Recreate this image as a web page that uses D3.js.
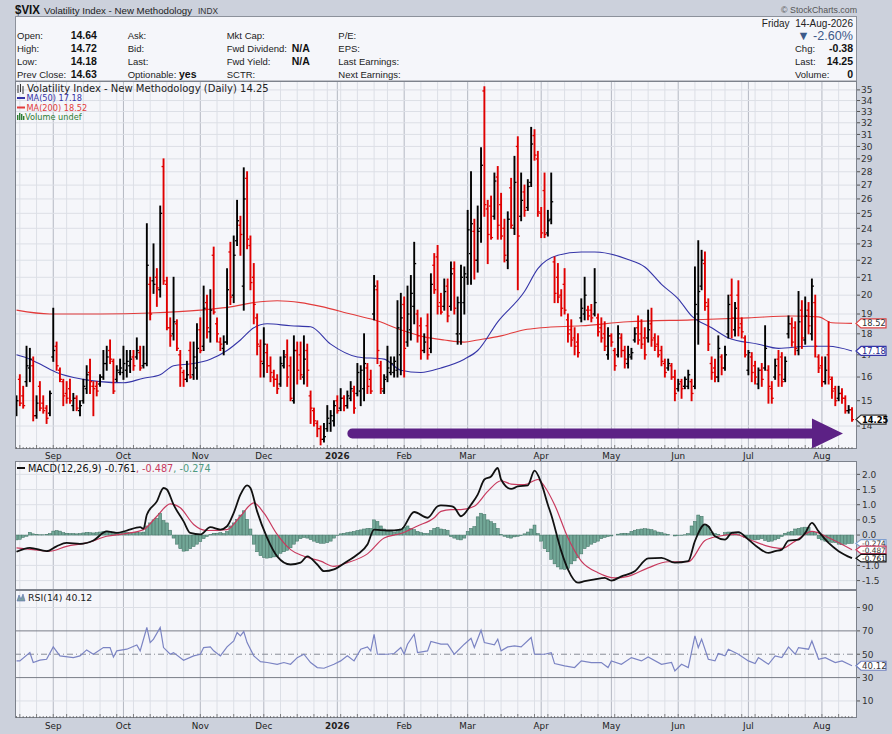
<!DOCTYPE html>
<html><head><meta charset="utf-8">
<script src="https://cdn.jsdelivr.net/npm/d3@7"></script>
<style>
html,body{margin:0;padding:0;background:#ccd1dc;}
svg{display:block;}
</style></head><body>
<svg id="c" width="892" height="734"></svg>
<script>
// ---------------- DATA ----------------
const startDate = "2025-08-15", endDate = "2026-08-14";
const holidays = ["2025-09-01","2025-11-27","2025-12-25","2026-01-01","2026-01-19","2026-02-16","2026-04-03","2026-05-25","2026-06-19","2026-07-03"];
const monthLabels = ["Sep","Oct","Nov","Dec","2026","Feb","Mar","Apr","May","Jun","Jul","Aug"];
const priceTicks = [14,15,16,17,18,19,20,21,22,23,24,25,26,27,28,29,30,31,32,33,34,35];
const macdTicks = [2.0,1.5,1.0,0.5,0.0,-0.5,-1.0,-1.5];
const macdTickLabels = ["2.0","1.5","1.0","0.5","0.0","","-1.0","-1.5"];
const rsiTicks = [90,70,50,30,10];

// daily bars: [open, high, low, close]
const priceBars = [
[14.6,15.2,14.4,15.0],[15.9,16.1,14.8,14.9],[15.2,15.6,14.7,14.8],[15.8,17.4,15.6,16.5],[16.4,17.3,15.8,16.8],
[16.5,16.9,14.2,14.4],[14.4,15.2,14.3,14.9],[15.6,15.8,14.6,14.7],[14.9,15.2,14.5,14.6],[14.7,14.8,14.1,14.3],
[14.5,15.4,14.4,15.3],[16.9,19.3,16.7,17.2],[17.4,17.6,16.3,16.5],[16.3,16.4,15.8,15.9],[15.8,15.9,14.8,15.2],
[15.3,15.8,14.9,15.1],[15.5,15.9,14.9,15.0],[14.8,15.3,14.6,15.1],[15.1,15.2,14.6,14.7],[14.6,15.0,14.4,14.8],
[15.0,15.9,14.9,15.6],[15.5,16.5,15.3,16.1],[16.2,16.8,15.3,15.8],[15.6,15.8,14.4,15.5],[15.6,15.8,15.2,15.4],
[15.7,16.1,15.6,16.0],[16.0,17.2,15.9,16.6],[16.6,17.4,16.3,16.9],[17.2,17.7,16.6,16.8],[16.7,16.8,15.3,15.4],
[15.9,16.5,15.8,16.3],[16.2,16.8,16.1,16.4],[16.2,17.4,15.9,16.6],[16.3,17.2,16.0,16.7],[16.5,17.2,16.2,16.8],
[16.9,17.2,16.3,16.5],[16.9,17.8,16.8,17.2],[17.1,17.4,16.3,16.4],[16.5,17.4,16.4,16.6],[16.6,24.3,16.5,21.7],
[20.6,21.0,18.7,19.0],[20.8,23.0,20.1,20.6],[21.0,21.5,19.4,20.4],[20.3,25.5,19.9,25.0],[28.4,29.0,20.6,20.8],
[20.6,21.0,18.2,18.3],[18.3,18.8,17.4,17.9],[18.0,21.0,17.7,18.6],[18.5,18.7,17.2,17.3],[17.0,17.2,15.6,16.4],
[16.2,16.3,15.6,15.9],[15.9,16.7,15.8,16.1],[17.2,17.6,15.95,16.0],[16.1,17.6,15.9,16.9],[16.4,18.5,15.9,17.3],
[18.2,18.8,17.1,17.2],[17.4,20.5,17.2,19.3],[19.6,20.0,17.8,18.3],[18.1,20.3,17.6,19.2],[22.3,22.8,19.0,19.1],
[18.5,18.8,17.6,18.0],[17.6,17.8,17.2,17.5],[17.3,17.9,17.0,17.6],[17.6,21.5,17.5,20.3],[22.5,23.1,19.5,19.9],
[20.0,23.5,19.6,22.3],[23.2,25.9,22.9,24.5],[24.2,24.8,22.3,23.6],[20.5,28.3,19.2,26.0],[27.5,28.0,22.7,23.3],
[22.9,23.5,20.3,20.7],[21.0,21.8,18.5,19.5],[18.8,19.0,17.0,17.5],[17.4,17.7,16.0,16.7],[16.6,18.3,16.0,17.5],
[17.1,17.5,16.2,16.5],[16.5,16.9,15.8,16.2],[16.0,16.3,15.6,15.9],[15.9,16.1,15.3,15.5],[15.7,16.9,15.6,16.6],
[16.5,17.2,16.4,16.9],[17.0,17.7,15.6,16.0],[16.5,16.9,15.0,15.1],[15.0,17.9,14.9,17.2],[17.2,17.6,15.7,16.3],
[17.0,17.6,15.9,16.1],[16.0,17.9,15.7,16.8],[17.2,17.5,15.6,16.3],[15.2,15.4,14.1,14.7],[14.6,14.7,14.0,14.2],
[14.1,14.2,13.6,13.9],[13.9,14.0,13.3,13.5],[13.5,14.1,13.4,13.6],[13.9,14.8,13.8,14.3],[14.1,14.6,13.8,14.4],
[14.2,15.0,14.0,14.8],[15.0,15.2,14.5,14.6],[14.7,15.5,14.6,15.1],[15.1,15.2,14.6,14.8],[14.8,15.4,14.7,15.2],
[15.1,15.8,15.0,15.5],[15.4,15.6,14.5,14.7],[15.3,16.6,15.2,16.2],[15.4,16.5,14.8,16.3],[15.5,18.0,15.0,16.6],
[16.4,16.6,15.3,15.6],[15.9,16.3,15.3,15.4],[19.0,21.1,18.7,20.5],[20.3,20.8,16.6,17.2],[16.5,16.7,15.3,15.5],
[15.4,16.1,15.3,15.9],[16.0,17.4,15.8,16.4],[16.2,16.9,16.1,16.6],[16.2,16.9,16.0,16.7],[16.3,19.7,16.0,18.3],
[17.0,20.1,16.1,18.8],[19.5,19.9,16.0,17.3],[17.6,20.5,17.4,19.0],[18.2,21.1,17.7,20.1],[19.4,23.1,18.5,21.8],
[19.0,19.2,17.6,17.9],[18.4,18.8,16.8,17.2],[17.2,18.0,17.1,17.6],[18.4,19.0,16.8,17.0],[17.3,21.2,17.1,20.6],
[21.7,22.4,20.1,20.3],[22.2,22.9,19.0,19.4],[19.6,20.1,19.0,19.1],[19.4,20.9,19.2,20.2],[20.5,20.9,18.6,18.9],
[19.4,21.9,19.2,21.2],[21.5,21.9,19.0,19.3],[18.0,19.9,17.5,19.6],[18.0,21.7,17.5,21.0],[19.6,21.6,19.0,21.2],
[21.0,25.2,20.6,23.9],[22.4,28.0,20.6,24.3],[23.8,24.6,20.9,22.0],[22.0,25.5,21.3,23.8],[24.0,29.9,23.1,28.5],
[34.9,35.3,24.8,25.6],[25.3,25.9,21.8,23.6],[25.5,26.2,23.3,23.4],[24.8,27.9,24.6,27.3],[27.6,28.4,23.3,24.2],
[25.6,26.4,23.3,23.5],[24.0,24.6,21.9,22.3],[22.0,25.1,21.5,24.6],[26.8,27.5,24.0,24.2],[24.0,29.2,23.6,27.2],
[30.0,30.8,20.3,23.5],[24.8,27.9,24.5,25.9],[26.5,27.0,24.8,25.2],[25.4,27.4,25.2,26.9],[27.2,31.6,26.9,30.2],
[30.9,31.4,28.9,29.3],[29.0,29.6,24.8,25.1],[25.0,25.4,23.4,23.7],[26.6,27.9,23.4,23.6],[23.7,25.2,23.5,24.5],
[24.6,27.9,24.3,25.8],[21.9,22.2,19.6,20.1],[21.0,21.8,19.6,19.9],[20.0,20.3,18.9,19.3],[20.6,21.5,19.0,19.2],
[18.7,19.0,17.6,18.0],[18.2,18.7,17.4,17.7],[17.8,18.3,17.0,17.4],[17.6,18.0,16.9,17.1],[18.8,19.8,18.6,19.3],
[19.0,21.0,18.7,20.0],[19.2,19.4,18.7,18.9],[19.2,19.5,18.6,18.8],[19.0,21.5,18.9,19.6],[18.8,19.0,17.9,18.1],
[18.3,18.8,17.6,17.8],[18.0,18.6,17.2,17.4],[17.0,18.3,16.8,17.9],[17.9,18.0,17.4,17.6],[17.2,17.3,16.3,16.5],
[17.0,18.4,16.9,18.0],[17.8,18.0,16.9,17.2],[17.2,17.4,16.4,16.8],[16.6,17.4,16.4,17.0],[16.9,17.3,16.8,17.1],
[17.7,18.3,17.6,18.0],[18.3,18.9,17.5,17.7],[18.0,18.7,17.3,17.5],[17.8,18.3,16.8,17.0],[17.8,19.2,17.6,18.2],
[18.5,19.3,17.4,17.7],[17.8,18.0,17.2,17.4],[17.5,17.9,16.9,17.0],[17.2,17.4,16.5,16.7],[16.6,16.8,16.0,16.2],
[16.4,16.8,16.3,16.6],[16.5,16.6,15.9,16.0],[16.0,16.3,15.0,15.3],[15.5,15.9,15.4,15.7],[15.8,15.9,15.1,15.5],
[15.6,16.0,15.5,15.9],[15.6,16.3,15.5,16.1],[15.8,15.9,15.0,15.3],[15.6,21.6,15.5,19.5],[19.0,23.2,17.5,20.2],
[20.5,22.6,20.3,22.0],[21.8,22.5,19.2,19.6],[19.4,19.8,17.2,17.5],[16.6,16.9,15.9,16.2],[16.4,16.8,15.8,16.0],
[16.0,17.9,15.8,17.3],[16.9,17.0,16.1,16.4],[16.4,17.4,16.3,17.0],[18.0,20.0,17.8,19.5],[20.0,20.9,17.8,18.8],
[18.2,19.6,17.9,19.3],[20.0,20.8,17.9,18.3],[18.5,18.8,17.8,18.1],[17.8,17.9,16.9,17.0],[16.3,17.2,16.1,17.1],
[16.9,17.1,15.8,16.2],[16.5,16.7,15.7,16.0],[15.7,16.4,15.5,16.3],[16.3,16.6,15.6,15.9],[16.4,18.4,16.3,17.3],
[16.3,16.5,14.9,15.6],[15.5,15.8,14.9,15.1],[16.0,16.8,15.9,16.5],[16.8,17.2,15.6,16.1],[16.9,17.1,15.6,15.8],
[15.9,16.9,15.8,16.7],[18.0,18.9,17.8,18.5],[18.5,18.8,17.4,17.6],[18.3,18.6,17.0,17.3],[17.2,20.2,17.0,18.6],
[19.2,19.7,17.3,17.8],[17.7,19.9,17.5,18.9],[19.2,19.6,18.0,18.4],[18.0,20.9,17.7,20.5],[19.6,20.0,16.9,17.4],
[16.9,17.0,16.2,16.4],[16.5,16.9,15.6,15.8],[15.8,16.9,15.7,16.3],[17.0,18.6,15.7,16.0],[15.9,16.0,15.1,15.4],
[15.5,15.6,14.8,15.0],[15.1,15.6,15.0,15.3],[15.3,15.5,14.9,15.1],[15.1,15.2,14.5,14.6],[14.6,14.8,14.5,14.63],
[14.64,14.72,14.18,14.25]
];
const prevCloseBeforeStart = 14.7;

const ma50Idx = [0,4,8,12,20,25,32,38,43,47,53,58,63,67,71,75,82,88,94,102,110,115,121,127,134,138,144,152,156,162,169,173,183,188,193,198,202,208,213,222,228,237,243,250];
const ma50Val = [17.0,16.8,16.5,16.2,15.9,15.8,15.75,15.95,16.1,16.5,16.6,16.8,17.2,17.7,18.3,18.5,18.4,18.35,17.5,16.9,16.8,16.3,16.2,16.4,16.8,17.2,18.6,20.2,21.5,22.3,22.5,22.5,22.05,21.6,20.6,19.8,18.9,18.3,17.8,17.5,17.3,17.4,17.4,17.18];
const ma200Idx = [0,10,25,40,55,65,71,78,85,91,100,107,115,122,128,134,138,145,152,157,169,183,202,219,232,240,244,250];
const ma200Val = [19.2,19.0,19.0,19.05,19.2,19.4,19.6,19.7,19.6,19.4,19.0,18.7,18.2,17.85,17.7,17.6,17.7,17.9,18.2,18.3,18.4,18.6,18.7,18.8,18.9,18.85,18.55,18.52];

const macdIdx = [0,4,9,12,15,19,23,27,30,33,37,38,39,42,44,45,47,50,52,55,58,61,63,65,67,69,70,72,75,78,82,85,87,90,92,95,99,102,105,107,111,115,119,123,126,127,130,131,133,136,138,140,142,144,145,148,150,153,155,157,159,160,163,165,168,170,173,176,178,181,185,189,193,197,201,203,206,207,209,212,214,216,219,222,225,227,229,231,234,236,238,240,243,246,250];
const macdVal = [-0.55,-0.42,-0.53,-0.37,-0.26,-0.29,-0.18,0.12,0.07,0.15,0.26,0.21,0.67,1.11,1.55,1.5,1.0,0.45,0.07,0.02,0.26,0.18,0.29,0.73,1.33,1.64,1.55,0.78,-0.09,-0.70,-0.97,-0.91,-0.70,-0.97,-1.19,-1.13,-0.86,-0.64,-0.31,0.18,0.15,0.18,0.76,0.57,0.95,0.98,0.95,0.91,0.62,1.0,1.33,1.83,1.93,2.21,1.83,1.52,1.6,1.64,2.12,1.72,1.0,0.67,-0.53,-1.13,-1.57,-1.52,-1.46,-1.41,-1.5,-1.36,-1.19,-0.77,-0.75,-0.91,-0.86,-0.2,0.35,0.29,-0.04,-0.15,0.07,0.1,-0.15,-0.42,-0.59,-0.53,-0.48,-0.18,-0.15,0.07,0.4,0.12,-0.26,-0.53,-0.761];
const signalIdx = [0,5,10,15,21,27,32,38,42,46,49,53,57,63,67,71,74,78,82,86,91,95,99,105,110,115,120,125,127,130,133,137,141,145,148,152,156,158,161,165,169,174,179,183,189,195,201,206,210,215,220,225,229,233,238,243,250];
const signalVal = [-0.42,-0.48,-0.53,-0.37,-0.26,-0.04,0.04,0.18,0.62,1.03,0.9,0.35,0.15,0.18,0.62,1.06,0.73,0.02,-0.48,-0.70,-0.86,-1.03,-0.91,-0.62,-0.1,0.05,0.3,0.57,0.78,0.84,0.84,0.95,1.44,1.79,1.68,1.66,1.83,1.6,1.0,-0.09,-0.86,-1.24,-1.41,-1.36,-1.08,-0.88,-0.88,-0.18,-0.04,0.02,-0.18,-0.37,-0.44,-0.2,0.12,-0.09,-0.487];
const histVal = [
-0.16,-0.14,-0.08,-0.04,0.09,0.04,0.02,0.01,0.01,0.02,
0.05,0.13,0.15,0.13,0.08,0.06,0.05,0.05,0.04,0.05,
0.07,0.09,0.08,0.07,0.08,0.1,0.12,0.13,0.12,0.1,
0.09,0.09,0.1,0.09,0.08,0.08,0.09,0.08,0.1,0.3,
0.4,0.5,0.55,0.72,0.48,0.4,0.16,-0.1,-0.3,-0.45,
-0.53,-0.52,-0.45,-0.38,-0.3,-0.22,-0.12,-0.05,0.02,0.06,
0.06,0.08,0.05,0.12,0.3,0.4,0.52,0.66,0.8,0.52,
0.2,-0.3,-0.55,-0.68,-0.74,-0.76,-0.75,-0.72,-0.7,-0.6,
-0.55,-0.5,-0.42,-0.3,-0.2,-0.12,-0.08,-0.1,-0.15,-0.2,
-0.25,-0.27,-0.27,-0.25,-0.2,-0.1,-0.02,0.04,0.06,0.08,
0.1,0.12,0.15,0.17,0.2,0.22,0.22,0.5,0.45,0.3,
0.2,0.15,0.12,0.1,0.15,0.2,0.25,0.3,0.22,0.18,
0.12,0.08,0.06,0.05,0.15,0.22,0.25,0.2,0.18,0.16,
-0.05,-0.1,-0.14,-0.16,-0.1,0.12,0.22,0.28,0.6,0.72,
0.68,0.5,0.44,0.38,0.22,0.02,-0.04,-0.08,-0.1,-0.06,
-0.04,-0.02,0.04,0.1,0.2,0.33,0.05,-0.2,-0.45,-0.55,
-0.8,-0.95,-1.05,-1.12,-1.13,-1.1,-0.95,-0.85,-0.75,-0.62,
-0.45,-0.38,-0.3,-0.25,-0.2,-0.12,-0.08,-0.05,-0.03,0.0,
0.03,0.05,0.06,0.05,0.12,0.16,0.18,0.2,0.21,0.2,
0.18,0.14,0.1,0.08,0.04,0.02,0.0,-0.03,-0.02,-0.01,
0.01,0.05,0.3,0.45,0.66,0.62,0.35,0.28,0.1,0.05,
0.02,0.0,0.08,0.1,0.1,0.06,0.04,0.0,-0.08,-0.12,
-0.14,-0.16,-0.15,-0.12,-0.18,-0.22,-0.2,-0.16,-0.12,-0.05,
0.06,0.1,0.12,0.2,0.22,0.24,0.26,0.25,0.12,0.08,
-0.12,-0.16,-0.2,-0.22,-0.24,-0.25,-0.3,-0.32,-0.3,-0.28,-0.274
];
const rsiIdx = [0,1,4,5,7,9,11,13,17,19,21,23,26,28,29,30,33,36,37,39,40,41,43,44,46,47,50,53,55,56,58,59,61,63,65,66,67,68,69,71,73,75,78,80,82,84,86,88,90,92,95,97,99,101,103,105,106,107,108,111,113,115,116,117,119,120,123,124,127,129,131,134,136,137,139,140,143,144,145,147,149,151,154,155,158,160,161,164,167,169,172,175,177,178,181,184,187,189,193,196,197,199,201,203,204,205,207,209,210,212,213,216,219,221,222,225,227,229,231,233,234,237,238,240,242,245,247,250];
const rsiVal = [44.3,44.3,51.4,42.9,44.9,45.7,56.3,48.6,47.1,48.6,53.7,50,55.7,55.7,47.7,52.9,54.3,58,52.9,72.9,60,62.9,72.9,55.7,50,51.4,44.9,48.6,50,55.7,56.3,52.9,48.6,56.3,61.4,68.6,65.7,69.4,60,48.6,43.7,42.9,41.4,42.9,41.4,47.1,50,42.9,38.6,38,41.4,44.3,48.6,44.3,54.3,56.3,52.9,67.1,50,50,50.6,55.7,50,58.6,67.1,51.4,52.9,60.9,58.6,58.6,50,58.6,63.7,55.7,70.6,60,58,62.9,52.9,56.3,57.1,56.3,64.3,50,50,51.4,42,40,38.6,44.3,42.9,42.9,38.6,44.3,41.4,47.1,44.3,47.7,41.4,42.9,35.7,41.4,38.6,65.7,55.7,62.9,45.7,44.3,50.6,48.6,54.3,50,44.3,42,47.1,41.4,48.6,47.1,56.3,50,55.7,54.3,61.4,45.7,47.1,42.9,44.3,40.12];

const trendArrow = [[99,13.72],[247.3,13.72]];

const headerLeft = [
  [["Open:","14.64"],["Ask:",""],["Mkt Cap:",""],["P/E:",""]],
  [["High:","14.72"],["Bid:",""],["Fwd Dividend:","N/A"],["EPS:",""]],
  [["Low:","14.18"],["Last:",""],["Fwd Yield:","N/A"],["Last Earnings:",""]],
  [["Prev Close:","14.63"],["Optionable:","yes"],["SCTR:",""],["Next Earnings:",""]]
];
const headerRight = [["Chg:","-0.38"],["Last:","14.25"],["Volume:","0"]];

// ---------------- LAYOUT ----------------
const PL = 15, PR = 857;
const PP = {top:81, bottom:449}, MP = {top:461, bottom:590}, RP = {top:590, bottom:718};
const SANS = "'Liberation Sans', Arial, sans-serif";
const VER = "'DejaVu Sans', Verdana, sans-serif";

const svg = d3.select('#c');
svg.append('rect').attr('width',892).attr('height',734).attr('fill','#ccd1dc');

const parse = d3.timeParse('%Y-%m-%d'), fmt = d3.timeFormat('%Y-%m-%d');
const hol = new Set(holidays);
const dates = d3.timeDay.range(parse(startDate), d3.timeDay.offset(parse(endDate),1))
  .filter(d => d.getDay()!==0 && d.getDay()!==6 && !hol.has(fmt(d)));
const N = dates.length;
const x = d3.scaleLinear().domain([0, N-1]).range([16.5, 852]);
const yP = d3.scaleLog().domain([13.15, 35.86]).range([PP.bottom, PP.top]);
const yM = d3.scaleLinear().domain([-1.81, 2.44]).range([MP.bottom, MP.top]);
const yR = d3.scaleLinear().domain([-4.6, 105]).range([RP.bottom, RP.top]);

const monthStarts = [], weekStarts = [];
dates.forEach((d,i) => {
  if (i>0 && d.getMonth()!==dates[i-1].getMonth()) monthStarts.push(i);
  if (i>0 && d.getDay() <= dates[i-1].getDay()) weekStarts.push(i);
});

// ---------------- HEADER ----------------
svg.append('text').attr('x',15).attr('y',14).attr('font-family',SANS).attr('font-size',12.5).attr('font-weight','bold').attr('fill','#111')
  .attr('textLength',25).attr('lengthAdjust','spacingAndGlyphs').text('$VIX');
svg.append('text').attr('x',44).attr('y',14).attr('font-family',SANS).attr('font-size',9.7).attr('fill','#222').text('Volatility Index - New Methodology');
svg.append('text').attr('x',198).attr('y',14).attr('font-family',SANS).attr('font-size',8.4).attr('fill','#333').text('INDX');
svg.append('text').attr('x',857).attr('y',13).attr('text-anchor','end').attr('font-family',SANS).attr('font-size',8.8).attr('fill','#555').text('\u00A9 StockCharts.com');

svg.append('rect').attr('x',PL+0.5).attr('y',16.5).attr('width',PR-PL-1).attr('height',PP.top-16.5)
  .attr('fill','#f5f6fa').attr('stroke','#8c919b');

const colX = [[17,70.7],[127.7,179],[226.7,291.7],[338.3,0]];
const rowY = [39.3,52.3,65.3,78.3];
headerLeft.forEach((row,r) => row.forEach((cell,c) => {
  svg.append('text').attr('x',colX[c][0]).attr('y',rowY[r]).attr('font-family',SANS).attr('font-size',9.5).attr('fill','#222').text(cell[0]);
  if (cell[1]) svg.append('text').attr('x',colX[c][1]).attr('y',rowY[r]).attr('font-family',SANS).attr('font-size',10.5).attr('font-weight','bold').attr('fill','#111').text(cell[1]);
}));
svg.append('text').attr('x',853).attr('y',26.5).attr('text-anchor','end').attr('font-family',SANS).attr('font-size',10).attr('fill','#222').attr('xml:space','preserve').text('Friday  14-Aug-2026');
svg.append('text').attr('x',853).attr('y',40).attr('text-anchor','end').attr('font-family',SANS).attr('font-size',12.6).attr('fill','#3d5a8a').text('\u25BC -2.60%');
headerRight.forEach((h,k) => {
  svg.append('text').attr('x',795).attr('y',rowY[k+1]).attr('font-family',SANS).attr('font-size',9.5).attr('fill','#222').text(h[0]);
  svg.append('text').attr('x',853).attr('y',rowY[k+1]).attr('text-anchor','end').attr('font-family',SANS).attr('font-size',10.5).attr('font-weight','bold').attr('fill','#111').text(h[1]);
});

// ---------------- PANELS ----------------
function panel(p, id){
  svg.append('rect').attr('x',PL).attr('y',p.top).attr('width',PR-PL).attr('height',p.bottom-p.top).attr('fill','#f5f6fa');
  svg.append('clipPath').attr('id',id).append('rect').attr('x',PL).attr('y',p.top).attr('width',PR-PL).attr('height',p.bottom-p.top);
  const g = svg.append('g');
  weekStarts.forEach(i => {
    const isM = monthStarts.includes(i);
    g.append('line').attr('x1',x(i)).attr('x2',x(i)).attr('y1',p.top).attr('y2',p.bottom)
      .attr('stroke', isM ? '#b4b8c2' : '#dcdfe6');
  });
  monthStarts.forEach(i => {
    if (!weekStarts.includes(i)) g.append('line').attr('x1',x(i)).attr('x2',x(i)).attr('y1',p.top).attr('y2',p.bottom).attr('stroke','#b4b8c2');
  });
  return g;
}
function border(p){
  svg.append('rect').attr('x',PL+0.5).attr('y',p.top+0.5).attr('width',PR-PL-1).attr('height',p.bottom-p.top-1)
    .attr('fill','none').attr('stroke','#7d828c');
}
function dayTicks(yb){
  const g = svg.append('g');
  dates.forEach((d,i) => {
    const w = weekStarts.includes(i);
    g.append('line').attr('x1',x(i)).attr('x2',x(i)).attr('y1',yb).attr('y2',yb-(w?4:2)).attr('stroke','#666').attr('stroke-width',0.8);
  });
}
function monthAxis(yText){
  monthStarts.forEach((i,k) => {
    svg.append('text').attr('x',x(i)).attr('y',yText).attr('text-anchor','middle').attr('font-family',VER)
      .attr('font-size',8.8).attr('font-weight', monthLabels[k]==='2026' ? 'bold':'normal').attr('fill','#222').text(monthLabels[k]);
  });
}
function valueTag(y, text, stroke, color, bold, h, fs){
  const g = svg.append('g');
  g.append('path').attr('d',`M${PR-1},${y} L${PR+4},${y-h/2} L${PR+29},${y-h/2} L${PR+29},${y+h/2} L${PR+4},${y+h/2} Z`)
    .attr('fill','#fff').attr('stroke',stroke).attr('stroke-width',1.2);
  g.append('text').attr('x',PR+5).attr('y',y+fs*0.36).attr('font-family',VER).attr('font-size',fs).attr('font-weight',bold?'bold':'normal').attr('fill',color).text(text);
}

// ---- price panel
const gP = panel(PP,'clipP');
priceTicks.forEach(t => {
  gP.append('line').attr('x1',PL).attr('x2',PR).attr('y1',yP(t)).attr('y2',yP(t)).attr('stroke','#dcdfe6');
});
const gPd = svg.append('g').attr('clip-path','url(#clipP)');
const maLine = d3.line().x(d=>x(d[0])).y(d=>yP(d[1])).curve(d3.curveMonotoneX);
gPd.append('path').attr('d', maLine(ma200Idx.map((i,k)=>[i,ma200Val[k]]))).attr('fill','none').attr('stroke','#e23b3b').attr('stroke-width',1.1);
gPd.append('path').attr('d', maLine(ma50Idx.map((i,k)=>[i,ma50Val[k]]))).attr('fill','none').attr('stroke','#3535a8').attr('stroke-width',1.1);
priceBars.forEach((b,i) => {
  const prev = i===0 ? prevCloseBeforeStart : priceBars[i-1][3];
  const col = b[3] >= prev ? '#000' : '#e00000';
  const xi = x(i);
  gPd.append('line').attr('x1',xi).attr('x2',xi).attr('y1',yP(b[1])-0.5).attr('y2',yP(b[2])+0.5).attr('stroke',col).attr('stroke-width',1.9);
  gPd.append('line').attr('x1',xi-2).attr('x2',xi).attr('y1',yP(b[0])).attr('y2',yP(b[0])).attr('stroke',col).attr('stroke-width',1.3);
  gPd.append('line').attr('x1',xi).attr('x2',xi+2).attr('y1',yP(b[3])).attr('y2',yP(b[3])).attr('stroke',col).attr('stroke-width',1.3);
});
{
  const xs = x(trendArrow[0][0]), xt = x(trendArrow[1][0]), yc = yP(trendArrow[0][1]);
  const xh = xt - 31, hw = 5, hh = 15;
  gPd.append('path').attr('d',`M${xs+hw},${yc-hw} L${xh},${yc-hw} L${xh},${yc-hh} L${xt},${yc} L${xh},${yc+hh} L${xh},${yc+hw} L${xs+hw},${yc+hw} A${hw},${hw} 0 0 1 ${xs+hw},${yc-hw} Z`)
    .attr('fill','#5c2185');
}
border(PP);
dayTicks(PP.bottom);
priceTicks.forEach(t => {
  svg.append('line').attr('x1',PR).attr('x2',PR+3).attr('y1',yP(t)).attr('y2',yP(t)).attr('stroke','#555');
  svg.append('text').attr('x',PR+4).attr('y',yP(t)+3.3).attr('font-family',VER).attr('font-size',9).attr('fill','#333').text(t);
});
{
  const g = svg.append('g');
  [[18,85,93],[20.5,84,92],[23,86,94]].forEach(a=>{
    g.append('line').attr('x1',a[0]).attr('x2',a[0]).attr('y1',a[1]).attr('y2',a[2]).attr('stroke','#333').attr('stroke-width',1);
  });
  g.append('text').attr('x',27).attr('y',92).attr('font-family',VER).attr('font-size',10).attr('fill','#222').text('Volatility Index - New Methodology (Daily) 14.25');
  g.append('line').attr('x1',17).attr('x2',25).attr('y1',98).attr('y2',98).attr('stroke','#3535a8').attr('stroke-width',2);
  g.append('text').attr('x',26.5).attr('y',101).attr('font-family',VER).attr('font-size',8.2).attr('fill','#3535a8').text('MA(50) 17.18');
  g.append('line').attr('x1',17).attr('x2',25).attr('y1',107.5).attr('y2',107.5).attr('stroke','#e23b3b').attr('stroke-width',2);
  g.append('text').attr('x',26.5).attr('y',110.7).attr('font-family',VER).attr('font-size',8.2).attr('fill','#e23b3b').text('MA(200) 18.52');
  [[17,115],[19,113],[21,114],[23,116]].forEach(a=>{
    g.append('rect').attr('x',a[0]).attr('y',a[1]).attr('width',1.4).attr('height',120-a[1]).attr('fill','#2e7d32');
  });
  g.append('text').attr('x',25).attr('y',120).attr('font-family',VER).attr('font-size',8.2).attr('fill','#2e7d32').text('Volume undef');
}
valueTag(yP(18.52),'18.52','#e04444','#333',false,9,8.3);
valueTag(yP(17.18),'17.18','#3535a8','#22228a',false,9,8.3);
valueTag(yP(14.25),'14.25','#333','#000',true,9,8.3);
monthAxis(459);

// ---- MACD panel
const gM = panel(MP,'clipM');
macdTicks.forEach(t => gM.append('line').attr('x1',PL).attr('x2',PR).attr('y1',yM(t)).attr('y2',yM(t)).attr('stroke','#dcdfe6'));
const gMd = svg.append('g').attr('clip-path','url(#clipM)');
histVal.forEach((v,i) => {
  gMd.append('rect').attr('x',x(i)-1.5).attr('width',3).attr('y',Math.min(yM(v),yM(0))).attr('height',Math.abs(yM(v)-yM(0)))
    .attr('fill','#72a797').attr('stroke','#3d6f60').attr('stroke-width',0.5);
});
const mLine = d3.line().x(d=>x(d[0])).y(d=>yM(d[1])).curve(d3.curveMonotoneX);
gMd.append('path').attr('d', mLine(signalIdx.map((i,k)=>[i,signalVal[k]]))).attr('fill','none').attr('stroke','#c83a5e').attr('stroke-width',1.2);
gMd.append('path').attr('d', mLine(macdIdx.map((i,k)=>[i,macdVal[k]]))).attr('fill','none').attr('stroke','#111').attr('stroke-width',1.8);
border(MP);
macdTicks.forEach((t,k) => {
  svg.append('line').attr('x1',PR).attr('x2',PR+3).attr('y1',yM(t)).attr('y2',yM(t)).attr('stroke','#555');
  if (macdTickLabels[k]) svg.append('text').attr('x',PR+5).attr('y',yM(t)+3.3).attr('font-family',VER).attr('font-size',9).attr('fill','#333').text(macdTickLabels[k]);
});
{
  const g = svg.append('g');
  g.append('line').attr('x1',17).attr('x2',25).attr('y1',468).attr('y2',468).attr('stroke','#111').attr('stroke-width',2);
  const t = g.append('text').attr('x',28).attr('y',471.5).attr('font-family',VER).attr('font-size',9.7);
  t.append('tspan').attr('fill','#111').text('MACD(12,26,9) -0.761');
  t.append('tspan').attr('fill','#c83a5e').text(', -0.487');
  t.append('tspan').attr('fill','#4f9a80').text(', -0.274');
}
valueTag(yM(-0.274),'-0.274','#7f9fd0','#333',false,7.6,7.4);
valueTag(yM(-0.487),'-0.487','#c83a5e','#333',false,7.6,7.4);
valueTag(yM(-0.761),'-0.761','#111','#000',false,7.6,7.4);

// ---- RSI panel
const gR = panel(RP,'clipR');
[90,10].forEach(t => gR.append('line').attr('x1',PL).attr('x2',PR).attr('y1',yR(t)).attr('y2',yR(t)).attr('stroke','#dcdfe6'));
[70,30].forEach(t => gR.append('line').attr('x1',PL).attr('x2',PR).attr('y1',yR(t)).attr('y2',yR(t)).attr('stroke','#7a7e88'));
gR.append('line').attr('x1',PL).attr('x2',PR).attr('y1',yR(50)).attr('y2',yR(50)).attr('stroke','#8a8e98').attr('stroke-dasharray','6,3,1,3');
const gRd = svg.append('g').attr('clip-path','url(#clipR)');
const rLine = d3.line().x(d=>x(d[0])).y(d=>yR(d[1]));
gRd.append('path').attr('d', rLine(rsiIdx.map((i,k)=>[i,rsiVal[k]]))).attr('fill','none').attr('stroke','#7b84c3').attr('stroke-width',1.2);
border(RP);
dayTicks(RP.bottom);
rsiTicks.forEach(t => {
  svg.append('line').attr('x1',PR).attr('x2',PR+3).attr('y1',yR(t)).attr('y2',yR(t)).attr('stroke','#555');
  svg.append('text').attr('x',PR+5).attr('y',yR(t)+3.3).attr('font-family',VER).attr('font-size',9).attr('fill','#333').text(t);
});
{
  const g = svg.append('g');
  g.append('path').attr('d','M17,601 L19,595 L21,599 L23,594 L25,601 Z').attr('fill','#7b9fa0').attr('stroke','#5a6fb0').attr('stroke-width',0.6);
  g.append('text').attr('x',28).attr('y',600.5).attr('font-family',VER).attr('font-size',9.4).attr('fill','#222').text('RSI(14) 40.12');
}
valueTag(yR(40.12),'40.12','#7080c0','#333',false,9,8.6);
monthAxis(729);
</script></body></html>
